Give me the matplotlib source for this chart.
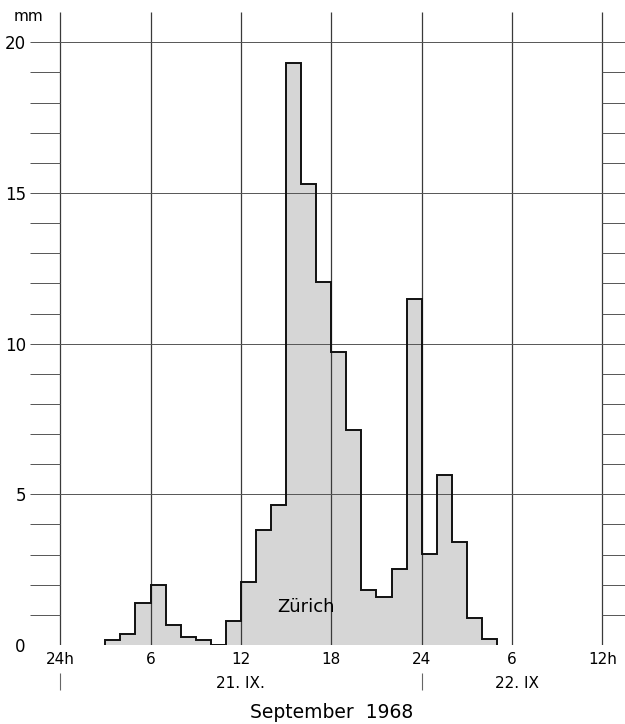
import numpy as np
import matplotlib
matplotlib.use("Agg")
import matplotlib.pyplot as plt

# hourly precipitation at Zürich, hours counted from 0h on 21 Sept 1968
hour_start = 3
rain_mm = [0.17, 0.38, 1.4, 2.0, 0.68, 0.28, 0.17, 0.0, 0.8,
           2.1, 3.8, 4.65, 19.3, 15.3, 12.05, 9.73, 7.13, 1.83,
           1.6, 2.52, 11.47, 3.02, 5.63, 3.41, 0.89, 0.19]
tick_hours = [0, 6, 12, 18, 24, 30, 36]
tick_labels = ["24h", "6", "12", "18", "24", "6", "12h"]
y_major = [0, 5, 10, 15, 20]
day_labels = [(12, "21. IX."), (30.3, "22. IX")]

edges = np.arange(hour_start, hour_start + len(rain_mm) + 1)

fig = plt.figure(figsize=(6.25, 7.24), dpi=100)
ax = fig.add_axes([30 / 625, 79 / 724, 595 / 625, 637 / 724])
ax.set_xlim(-2, 37.5)
ax.set_ylim(0, 21.14)
for s in ax.spines.values():
    s.set_visible(False)

line_col = "#3a3a3a"

# bars: filled steps plus outline
ax.stairs(rain_mm, edges, fill=True, color="#d6d6d6", zorder=1)
ax.stairs(rain_mm, edges, fill=False, color="#111111", linewidth=1.4, zorder=3)

# grid: 6-hour verticals and 5 mm horizontals
ax.vlines(tick_hours, 0, 21.0, color=line_col, linewidth=0.9, zorder=2)
ax.hlines(y_major, -2, 37.5, color="#555555", linewidth=0.7, zorder=2)

# minor mm ticks on the left and right
minor = [v for v in range(1, 20) if v % 5 != 0]
ax.hlines(minor, -2, 0, color="#555555", linewidth=0.7)
ax.hlines(minor, 36, 37.5, color="#555555", linewidth=0.7)

# day boundary marks below the axis
ax.vlines([0, 24], -0.93, -1.5, color="#666666", linewidth=0.8, clip_on=False)

ax.set_xticks(tick_hours, tick_labels, fontsize=11)
ax.set_yticks(y_major, [str(v) for v in y_major], fontsize=12)
ax.tick_params(axis="x", length=0, pad=5)
ax.tick_params(axis="y", length=0, pad=3)

ax.text(-2.1, 20.85, "mm", fontsize=11, ha="center", va="center")
ax.text(16.3, 1.25, "Zürich", fontsize=13, ha="center", va="center", zorder=4)
for h, lab in day_labels:
    ax.text(h, -1.27, lab, fontsize=11, ha="center", va="center")
fig.text(0.53, 12 / 724, "September  1968", fontsize=13.5,
         ha="center", va="center")

fig.savefig("out.png", dpi=100)
